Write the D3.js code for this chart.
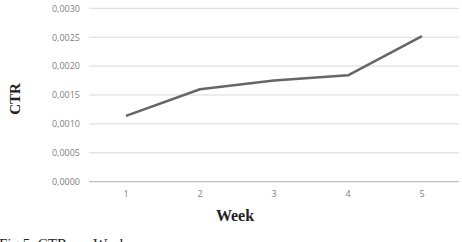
<!DOCTYPE html>
<html>
<head>
<meta charset="utf-8">
<script src="https://cdn.jsdelivr.net/npm/d3@7"></script>
<style>
  body { margin: 0; background: #fff; }
  svg { display: block; }
</style>
</head>
<body>
<svg id="chart"></svg>
<script>
const weeks = ["1", "2", "3", "4", "5"];
const ctrValues = [0.00114, 0.00160, 0.00175, 0.00184, 0.00252];
const yTicks = [0, 0.0005, 0.001, 0.0015, 0.002, 0.0025, 0.003];
const xTitle = "Week";
const yTitle = "CTR";
const caption = "Fig 5. CTR per Week";

const width = 462, height = 242;
const margin = {top: 8.3, right: 3, bottom: 60.3, left: 89};

const svg = d3.select("#chart")
  .attr("width", width)
  .attr("height", height);

const plotW = width - margin.left - margin.right;
const plotH = height - margin.top - margin.bottom;

const chart = svg.append("g")
  .attr("transform", "translate(" + margin.left + "," + margin.top + ")");

const x = d3.scaleBand()
  .domain(weeks)
  .range([0, plotW]);

const y = d3.scaleLinear()
  .domain([0, 0.003])
  .range([plotH, 0]);

// horizontal grid lines
chart.append("g")
  .selectAll("line")
  .data(yTicks)
  .join("line")
  .attr("x1", 0)
  .attr("x2", plotW)
  .attr("y1", d => y(d))
  .attr("y2", d => y(d))
  .attr("stroke", d => d === 0 ? "#bfbfbf" : "#d9d9d9")
  .attr("stroke-width", d => d === 0 ? 1.3 : 1);

// y axis labels
const fmt = d => d3.format(".4f")(d).replace(".", ",");
const tickFont = "'Open Sans', 'Liberation Sans', sans-serif";
const yAxis = d3.axisLeft(y)
  .tickValues(yTicks)
  .tickFormat(fmt)
  .tickSize(0)
  .tickPadding(9);

chart.append("g")
  .call(yAxis)
  .call(g => g.select(".domain").remove())
  .call(g => g.selectAll("text")
    .attr("fill", "#808080")
    .style("font-family", tickFont)
    .style("font-size", "9px"));

// x axis labels
const xAxis = d3.axisBottom(x).tickSize(0).tickPadding(9);
chart.append("g")
  .attr("transform", "translate(0," + plotH + ")")
  .call(xAxis)
  .call(g => g.select(".domain").remove())
  .call(g => g.selectAll("text")
    .attr("fill", "#808080")
    .style("font-family", tickFont)
    .style("font-size", "9px"));

// the line
const line = d3.line()
  .x((d, i) => x(weeks[i]) + x.bandwidth() / 2)
  .y(d => y(d));

chart.append("path")
  .datum(ctrValues)
  .attr("fill", "none")
  .attr("stroke", "#666666")
  .attr("stroke-width", 2.5)
  .attr("stroke-linejoin", "round")
  .attr("d", line);

// axis titles
svg.append("text")
  .attr("x", 235)
  .attr("y", 221)
  .attr("text-anchor", "middle")
  .style("font-family", "'Liberation Serif', 'Times New Roman', serif")
  .style("font-weight", "bold")
  .style("font-size", "16px")
  .attr("fill", "#222")
  .text(xTitle);

svg.append("text")
  .attr("transform", "translate(19.5,99) rotate(-90)")
  .attr("text-anchor", "middle")
  .style("font-family", "'Liberation Serif', 'Times New Roman', serif")
  .style("font-weight", "bold")
  .style("font-size", "15px")
  .attr("fill", "#222")
  .text(yTitle);

// figure caption, cut off at the bottom edge as in the source
svg.append("text")
  .attr("x", -1)
  .attr("y", 248.5)
  .style("font-family", "'Liberation Serif', 'Times New Roman', serif")
  .style("font-size", "15px")
  .attr("fill", "#222")
  .text(caption);
</script>
</body>
</html>
